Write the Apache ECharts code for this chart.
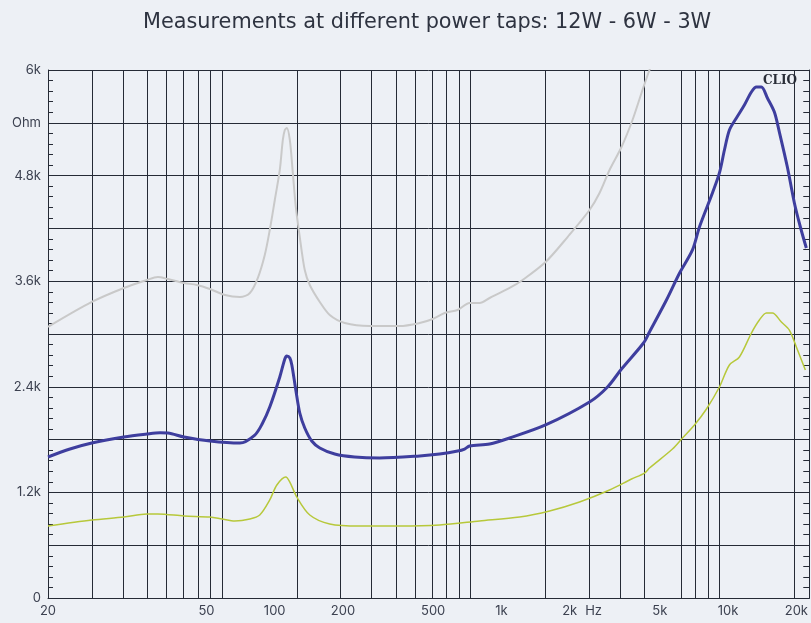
<!DOCTYPE html>
<html>
<head>
<meta charset="utf-8">
<title>Measurements at different power taps</title>
<script src="https://cdn.jsdelivr.net/npm/echarts@6/dist/echarts.min.js"></script>
<style>
    html, body { margin: 0; padding: 0; background: #edf0f5; }
    #chart { width: 811px; height: 623px; }
</style>
</head>
<body>
<div id="chart"></div>
<script>
// frequency (Hz) / impedance (ohm)
const freq12 = [10, 12.5, 15.6, 21.6, 27.3, 31.2, 33.8, 39.8, 51.8, 70.2, 81.7, 88, 95.1, 105.3, 110.8, 113.1, 116.6, 119, 123.9, 129, 135.7, 145.7, 158.1, 184, 225, 290, 436, 534, 641, 688, 724, 887, 1087, 1566, 2447, 2938, 3386, 4234, 4499, 5346, 6101, 6963, 7473, 8527, 9155, 9632, 10132, 10879, 11797, 12666, 13324, 14017, 14903, 15995, 16827, 18251, 19599, 20830, 22130]
const ohm12 = [1602, 1693, 1761, 1830, 1864, 1878, 1875, 1830, 1784, 1761, 1852, 1977, 2170, 2511, 2716, 2750, 2727, 2648, 2364, 2102, 1932, 1784, 1705, 1636, 1602, 1591, 1614, 1636, 1670, 1693, 1727, 1750, 1818, 1966, 2227, 2398, 2602, 2898, 3023, 3386, 3690, 3955, 4216, 4602, 4830, 5091, 5318, 5455, 5602, 5750, 5807, 5807, 5682, 5523, 5295, 4898, 4489, 4216, 3977]

const freq6 = [10, 15.6, 21.6, 27.3, 30.5, 33.8, 39.8, 45.4, 51.8, 60.3, 70.2, 77.7, 84.2, 90.4, 95.1, 100.1, 105.3, 108.6, 110.8, 113.1, 116.6, 120.2, 123.9, 129, 135.7, 142.8, 158.1, 174.9, 203.7, 262, 356, 436, 498, 562, 641, 724, 801, 887, 1087, 1240, 1566, 1958, 2447, 2709, 2999, 3386, 3787, 4149, 4499, 4980]
const ohm6 = [3080, 3364, 3523, 3614, 3648, 3625, 3580, 3557, 3511, 3443, 3420, 3466, 3636, 3898, 4182, 4523, 4864, 5205, 5318, 5341, 5205, 4830, 4443, 4102, 3727, 3557, 3364, 3216, 3125, 3091, 3091, 3125, 3170, 3239, 3273, 3352, 3352, 3409, 3523, 3614, 3818, 4102, 4409, 4602, 4864, 5125, 5432, 5739, 6000, 6284]

const freq3 = [10, 15.6, 21.6, 27.3, 30.5, 39.8, 51.8, 58.5, 66.7, 77.7, 85.9, 95.1, 102.2, 111.9, 116.6, 125.1, 142.8, 174.9, 237, 356, 534, 801, 1203, 1631, 2211, 2999, 3749, 4277, 4499, 5682, 6290, 7106, 8025, 9155, 10132, 11215, 12666, 13736, 14752, 15674, 17174, 18625, 20000, 21910]
const ohm3 = [818, 886, 920, 955, 955, 932, 920, 898, 875, 898, 943, 1114, 1284, 1375, 1318, 1148, 943, 841, 818, 818, 830, 875, 920, 989, 1091, 1227, 1352, 1420, 1477, 1693, 1818, 1966, 2148, 2398, 2648, 2739, 3011, 3159, 3239, 3239, 3136, 3045, 2852, 2591]

// grid lines of the frequency scale (no line at 6k, as in the picture)
const gridFreqs = [20, 30, 40, 50, 60, 70, 80, 90, 100, 200, 300, 400, 500, 600, 700, 800, 900, 1000, 2000, 3000, 4000, 5000, 7000, 8000, 9000, 10000, 20000]

// frequency labels and where they sit
const xLabelVals = [10, 50, 100, 200, 500, 1000, 2000, 2550, 5000, 10000, 20000]
const xLabelText = ['20', '50', '100', '200', '500', '1k', '2k', 'Hz', '5k', '10k', '20k']

const yLabelVals = [0, 1200, 2400, 3600, 4800, 5400, 6000]
const yLabelText = ['0', '1.2k', '2.4k', '3.6k', '4.8k', 'Ohm', '6k']

const zip = (xs, ys) => xs.map((x, i) => [x, ys[i]])

const lineColor = '#252a35'
const labelColor = '#3c4150'

let chart = echarts.init(document.getElementById('chart'))

chart.setOption({
    backgroundColor: '#edf0f5',
    animation: false,
    title: {
        text: 'Measurements at different power taps: 12W - 6W - 3W',
        left: 138,
        top: 7,
        textStyle: {fontFamily: 'DejaVu Sans', fontSize: 20.8, fontWeight: 'normal', color: '#2e3340'}
    },
    grid: {left: 48, right: 1, top: 70, bottom: 25},
    xAxis: [{
        type: 'log',
        min: 20,
        max: 22970,
        position: 'bottom',
        axisLine: {show: true, lineStyle: {color: lineColor, width: 1}},
        axisTick: {show: false, customValues: gridFreqs},
        axisLabel: {show: false},
        splitLine: {show: true, lineStyle: {color: lineColor, width: 1}}
    }, {
        type: 'log',
        min: 10,
        max: 22800,
        position: 'bottom',
        offset: 0,
        axisLine: {show: false},
        axisTick: {show: false},
        splitLine: {show: false},
        axisLabel: {
            customValues: xLabelVals,
            margin: 7,
            color: labelColor,
            fontFamily: 'Inter',
            fontSize: 13,
            formatter: (v) => {
                let i = xLabelVals.findIndex(t => Math.abs(t - v) / t < 0.01)
                return i < 0 ? '' : xLabelText[i]
            }
        }
    }],
    yAxis: [{
        type: 'value',
        min: 0,
        max: 6000,
        interval: 600,
        axisLine: {show: true, lineStyle: {color: lineColor}},
        axisTick: {show: true, inside: true, length: 5, lineStyle: {color: lineColor}},
        minorTick: {show: true, splitNumber: 5, length: 5, lineStyle: {color: lineColor}},
        splitLine: {show: true, lineStyle: {color: lineColor, width: 1}},
        axisLabel: {
            margin: 7,
            color: labelColor,
            fontFamily: 'Inter',
            fontSize: 13,
            formatter: (v) => {
                let i = yLabelVals.indexOf(Math.round(v))
                return i < 0 ? '' : yLabelText[i]
            }
        }
    }, {
        type: 'value',
        min: 0,
        max: 6000,
        interval: 600,
        position: 'right',
        axisLine: {show: true, lineStyle: {color: lineColor}},
        axisTick: {show: true, inside: true, length: 6, lineStyle: {color: lineColor}},
        minorTick: {show: true, splitNumber: 5, length: 6, lineStyle: {color: lineColor}},
        splitLine: {show: false},
        axisLabel: {show: false}
    }],
    graphic: [{
        type: 'text',
        right: 14,
        top: 75,
        style: {text: 'CLIO', fontFamily: 'DejaVu Serif', fontWeight: 'bold', fontSize: 12, fill: '#2a2e38'}
    }],
    series: [{
        name: '6W',
        type: 'line',
        xAxisIndex: 1,
        data: zip(freq6, ohm6),
        showSymbol: false,
        smooth: 0.3,
        lineStyle: {color: '#c9c9c9', width: 2},
        itemStyle: {color: '#c9c9c9'}
    }, {
        name: '3W',
        type: 'line',
        xAxisIndex: 1,
        data: zip(freq3, ohm3),
        showSymbol: false,
        smooth: 0.3,
        lineStyle: {color: '#b7c83a', width: 1.5},
        itemStyle: {color: '#b7c83a'}
    }, {
        name: '12W',
        type: 'line',
        xAxisIndex: 1,
        data: zip(freq12, ohm12),
        showSymbol: false,
        smooth: 0.3,
        lineStyle: {color: '#3e3e9e', width: 3},
        itemStyle: {color: '#3e3e9e'}
    }]
})
</script>
</body>
</html>
